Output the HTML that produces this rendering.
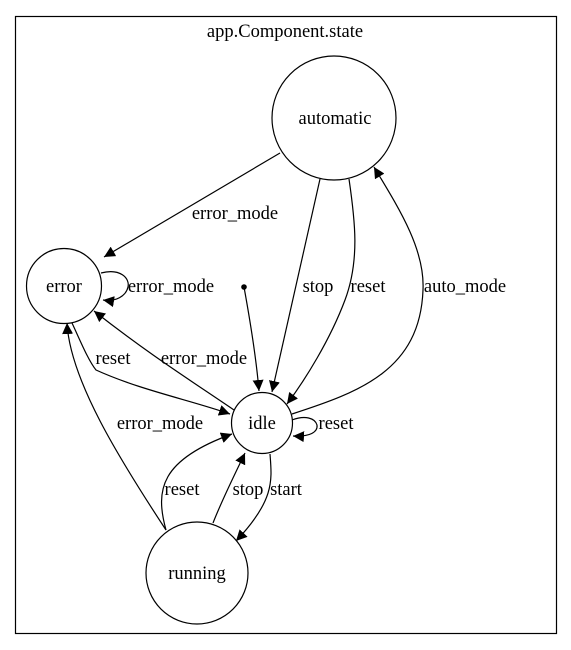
<!DOCTYPE html>
<html><head><style>body{margin:0;background:#fff}svg{display:block}text{font-family:"Liberation Serif",serif;font-size:18.5px;fill:#000}</style></head>
<body>
<svg width="571" height="650" viewBox="0 0 571 650">
<defs><marker id="a" viewBox="0 0 10 10" refX="10" refY="5" markerWidth="11" markerHeight="11" markerUnits="userSpaceOnUse" orient="auto"><path d="M0,0L10,5L0,10z" fill="#000"/></marker></defs>
<rect x="15.5" y="16.5" width="541" height="617" fill="none" stroke="#000" stroke-width="1.2"/>
<text x="285" y="37" text-anchor="middle">app.Component.state</text>
<g fill="none" stroke="#000" stroke-width="1.2">
<circle cx="334" cy="118" r="62"/>
<circle cx="64" cy="286" r="37.5"/>
<circle cx="262" cy="423" r="30.5"/>
<circle cx="197" cy="573" r="51"/>
<g marker-end="url(#a)">
<path d="M280,153 L104,257"/>
<path d="M101,273 C120,268 130,278 128,287 C126,296 116,302 103,300"/>
<path d="M244,287 C250,320 256,355 259,391"/>
<path d="M320,179 L272,392"/>
<path d="M349,179 C355,220 360,260 345,300 C330,340 305,380 287,404"/>
<path d="M292,414 C360,392 420,370 423,290 C425,250 400,210 374,167"/>
<path d="M234,410 C190,380 150,355 94,311"/>
<path d="M72,323 C80,340 88,360 96,370 C140,390 190,400 230,414"/>
<path d="M166,530 C120,460 70,380 67,323"/>
<path d="M166,530 C155,490 160,460 232,434"/>
<path d="M213,523 C222,500 232,480 245,453"/>
<path d="M270,454 C272,480 275,500 236,541"/>
<path d="M292,420 C305,415 315,418 317,425 C318,432 310,437 293,436"/>
</g>
</g>
<circle cx="244" cy="287" r="2.8" fill="#000"/>
<text x="335" y="124" text-anchor="middle">automatic</text>
<text x="64" y="292" text-anchor="middle">error</text>
<text x="262" y="429" text-anchor="middle">idle</text>
<text x="197" y="579" text-anchor="middle">running</text>
<text x="235" y="219" text-anchor="middle">error_mode</text>
<text x="171" y="292" text-anchor="middle">error_mode</text>
<text x="318" y="292" text-anchor="middle">stop</text>
<text x="368" y="292" text-anchor="middle">reset</text>
<text x="465" y="292" text-anchor="middle">auto_mode</text>
<text x="113" y="364" text-anchor="middle">reset</text>
<text x="204" y="364" text-anchor="middle">error_mode</text>
<text x="160" y="429" text-anchor="middle">error_mode</text>
<text x="336" y="429" text-anchor="middle">reset</text>
<text x="182" y="495" text-anchor="middle">reset</text>
<text x="248" y="495" text-anchor="middle">stop</text>
<text x="286" y="495" text-anchor="middle">start</text>
</svg>
</body></html>
